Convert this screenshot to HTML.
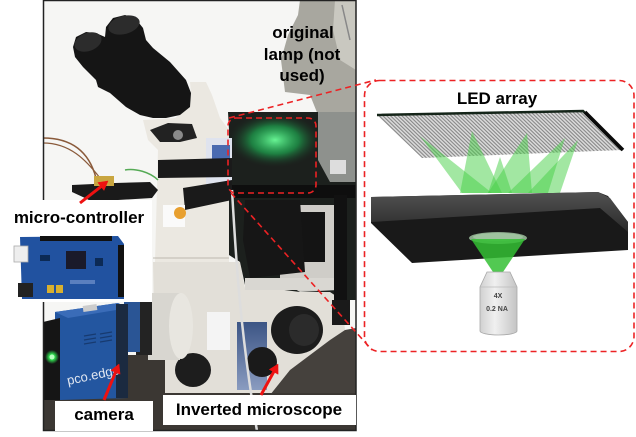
<!DOCTYPE html>
<html><head><meta charset="utf-8"><style>
html,body{margin:0;padding:0;background:#fff;}
svg{display:block;}
text{font-family:"Liberation Sans",Arial,sans-serif;}
</style></head><body>
<svg width="636" height="437" viewBox="0 0 636 437" xmlns="http://www.w3.org/2000/svg">
<defs>
  <clipPath id="ph"><rect x="43" y="0" width="313" height="431"/></clipPath>
  <radialGradient id="glow" cx="0.5" cy="0.5" r="0.5">
    <stop offset="0" stop-color="#6cff9a" stop-opacity="0.95"/>
    <stop offset="0.5" stop-color="#1fbf5a" stop-opacity="0.6"/>
    <stop offset="1" stop-color="#1c201d" stop-opacity="0"/>
  </radialGradient>
  <radialGradient id="led" cx="0.5" cy="0.5" r="0.5">
    <stop offset="0" stop-color="#b0ffb0"/>
    <stop offset="0.4" stop-color="#30e050"/>
    <stop offset="1" stop-color="#30e050" stop-opacity="0"/>
  </radialGradient>
  <pattern id="stripes" width="3.8" height="10" patternUnits="userSpaceOnUse" patternTransform="skewX(46)">
    <rect width="3.8" height="10" fill="#dadada"/>
    <rect x="0" width="1.6" height="10" fill="#8a8a8a"/>
  </pattern>
  <linearGradient id="obj" x1="0" x2="1" y1="0" y2="0">
    <stop offset="0" stop-color="#d0d0d0"/>
    <stop offset="0.4" stop-color="#f0f0f0"/>
    <stop offset="1" stop-color="#c4c4c4"/>
  </linearGradient>
  <linearGradient id="slabtop" x1="0" x2="0" y1="0" y2="1">
    <stop offset="0" stop-color="#525252"/>
    <stop offset="1" stop-color="#2a2a2a"/>
  </linearGradient>
  <linearGradient id="bluelab" x1="0" x2="0" y1="0" y2="1">
    <stop offset="0" stop-color="#3c5585"/>
    <stop offset="1" stop-color="#8a9cc0"/>
  </linearGradient>
</defs>

<!-- ================= PHOTO ================= -->
<g clip-path="url(#ph)">
  <rect x="43" y="0" width="313" height="431" fill="#f6f6f4"/>
  <!-- lamp housing -->
  <polygon points="300,0 356,0 356,115 318,115 310,95 285,92 281,60 288,35 298,15" fill="#a8a79f"/>
  <polygon points="335,0 356,0 356,70 340,60 333,30" fill="#c9c8c0"/>
  <line x1="342" y1="5" x2="350" y2="40" stroke="#888" stroke-width="1.5"/>
  <!-- brown wires -->
  <path d="M43,138 C75,138 90,155 96,178" stroke="#8a5a3a" stroke-width="1.5" fill="none"/>
  <path d="M43,143 C70,143 86,160 100,178" stroke="#8a5a3a" stroke-width="1.2" fill="none"/>
  <!-- microscope head/column -->
  <polygon points="143,120 175,118 190,107 191,93 190,82 206,82 212,95 220,118 229,130 229,262 155,262 158,150 148,140" fill="#ebe8e1"/>
  <polygon points="150,130 168,123 192,124 197,138 180,142 160,142" fill="#222"/>
  <circle cx="178" cy="135" r="5" fill="#8a8a8a"/>
  <!-- eyepieces -->
  <polygon points="73,47 76,37 86,32 96,33 105,37 106,27 113,18 125,15 135,18 143,28 146,40 153,48 170,62 186,80 191,93 190,107 180,115 166,118 153,118 140,115 126,107 110,93 98,87 96,80 83,67 75,57" fill="#151515"/>
  <ellipse cx="88" cy="42" rx="14" ry="9" transform="rotate(-20 88 42)" fill="#2c2c2c"/>
  <ellipse cx="124" cy="25" rx="16" ry="9" transform="rotate(-15 124 25)" fill="#2c2c2c"/>
  <!-- lower body -->
  <polygon points="153,262 240,262 245,288 330,292 342,300 345,330 330,340 290,370 270,395 163,395 155,378" fill="#e2dfd8"/>
  <line x1="153" y1="258" x2="229" y2="258" stroke="#bdb9b0" stroke-width="1"/>
  <!-- dark right region -->
  <polygon points="228,112 356,112 356,300 342,300 330,292 300,292 245,285 240,262 229,255 229,130" fill="#1c201d"/>
  <ellipse cx="275" cy="140" rx="48" ry="28" fill="url(#glow)"/>
  <polygon points="318,112 356,112 356,182 330,182 318,160" fill="#8e918d"/>
  <rect x="330" y="160" width="16" height="14" fill="#ddd"/>
  <rect x="225" y="185" width="131" height="13" fill="#0e0e0e"/>
  <polygon points="280,205 336,205 338,290 300,292 280,280" fill="#cfcdc8"/>
  <rect x="300" y="212" width="25" height="50" fill="#141414"/>
  <polygon points="245,200 300,200 305,272 250,278 243,240" fill="#161616"/>
  <rect x="245" y="278" width="90" height="12" fill="#d9d7d2"/>
  <rect x="334" y="195" width="13" height="130" fill="#111"/>
  <rect x="332" y="300" width="18" height="25" fill="#1a1a1a"/>
  <!-- blue/white device near column -->
  <rect x="206" y="138" width="26" height="48" fill="#dfe3ee"/>
  <rect x="212" y="145" width="18" height="16" fill="#4a6ab0"/>
  <!-- straps -->
  <polygon points="158,160 232,158 232,177 158,178" fill="#1a1a1a"/>
  <polygon points="183,188 232,180 232,200 185,210" fill="#1a1a1a"/>
  <rect x="163" y="205" width="22" height="22" fill="#fafafa"/>
  <circle cx="180" cy="213" r="6" fill="#e8a030"/>
  <!-- photo microcontroller -->
  <polygon points="72,185 115,183 150,182 158,190 152,198 118,200 102,207 85,198 72,192" fill="#1a1a1a"/>
  <rect x="94" y="176" width="20" height="10" fill="#c9a640"/>
  <path d="M125,170 C135,168 150,172 158,180" stroke="#5a5" stroke-width="1.5" fill="none"/>
  <!-- table -->
  <polygon points="345,330 356,328 356,431 250,431 270,395 290,370 330,340" fill="#45413d"/>
  <rect x="43" y="393" width="313" height="38" fill="#3b3733"/>
  <rect x="125" y="355" width="40" height="40" fill="#3b3733"/>
  <!-- labels/knobs on body -->
  <rect x="207" y="312" width="23" height="38" fill="#f4f4f4"/>
  <rect x="237" y="322" width="30" height="68" fill="url(#bluelab)"/>
  <ellipse cx="297" cy="330" rx="26" ry="24" fill="#1c1c1c"/>
  <ellipse cx="304" cy="330" rx="15" ry="16" fill="#2b2b2b"/>
  <ellipse cx="262" cy="362" rx="15" ry="15" fill="#1a1a1a"/>
  <ellipse cx="193" cy="370" rx="18" ry="17" fill="#1d1d1d"/>
  <!-- white cable -->
  <path d="M232,190 C236,260 240,330 257,431" stroke="#ddd" stroke-width="2.5" fill="none"/>
  <!-- camera lens -->
  <rect x="148" y="293" width="32" height="67" fill="#d8d6d0"/>
  <ellipse cx="181" cy="326" rx="12" ry="33" fill="#e8e6e0"/>
  <rect x="136" y="298" width="16" height="57" fill="#232323"/>
  <rect x="124" y="300" width="16" height="52" fill="#2a5595"/>
  <!-- camera body -->
  <polygon points="55,312 118,303 128,308 128,398 60,400 55,398" fill="#2356a0"/>
  <polygon points="55,312 118,303 128,308 68,318" fill="#3a6cb8"/>
  <rect x="83" y="305" width="14" height="6" fill="#ccc" transform="rotate(-8 90 308)"/>
  <rect x="116" y="304" width="12" height="94" fill="#1b2a40"/>
  <g stroke="#173a70" stroke-width="1.2">
    <line x1="84" y1="336" x2="96" y2="334"/><line x1="84" y1="340" x2="96" y2="338"/>
    <line x1="84" y1="344" x2="96" y2="342"/><line x1="100" y1="334" x2="112" y2="332"/>
    <line x1="100" y1="338" x2="112" y2="336"/><line x1="100" y1="342" x2="112" y2="340"/>
  </g>
  <polygon points="43,322 60,318 60,400 43,400" fill="#151515"/>
  <circle cx="52" cy="357" r="7" fill="url(#led)"/>
  <circle cx="52" cy="357" r="2.5" fill="#b8ffc0"/>
  <text x="68" y="385" font-size="13" fill="#e0e6f0" transform="rotate(-12 68 385)">pco.edge</text>
</g>
<rect x="43.5" y="0.5" width="312.5" height="430" fill="none" stroke="#222" stroke-width="1.5"/>

<!-- white label area covering photo left -->
<rect x="0" y="200" width="152" height="102" fill="#fff"/>

<!-- Arduino -->
<polygon points="20,237 118,236 124,244 124,299 22,299" fill="#2152a0"/>
<rect x="40" y="236" width="72" height="5" fill="#111"/>
<rect x="118" y="245" width="6" height="52" fill="#111"/>
<rect x="66" y="251" width="20" height="18" fill="#1a1a2a"/>
<rect x="14" y="246" width="14" height="16" fill="#eee" stroke="#aaa" stroke-width="0.8"/>
<rect x="18" y="283" width="15" height="14" fill="#222"/>
<rect x="47" y="285" width="7" height="8" fill="#d8b030"/>
<rect x="56" y="285" width="7" height="8" fill="#d8b030"/>
<rect x="40" y="255" width="10" height="6" fill="#0c2a55"/>
<rect x="95" y="258" width="8" height="8" fill="#0c2a55"/>
<rect x="70" y="280" width="25" height="4" fill="#5a7fbf"/>

<!-- labels on photo -->
<rect x="55" y="401" width="98" height="30" fill="#fff"/>
<rect x="163" y="395" width="193" height="30" fill="#fff"/>

<g font-weight="bold" font-size="17" fill="#000" text-anchor="middle">
  <text x="303" y="38">original</text>
  <text x="302" y="60">lamp (not</text>
  <text x="302" y="81">used)</text>
  <text x="79" y="223">micro-controller</text>
  <text x="104" y="420">camera</text>
  <text x="259" y="415">Inverted microscope</text>
  <text x="497" y="104">LED array</text>
</g>

<!-- arrows -->
<g fill="#ee1111" stroke="#ee1111">
  <line x1="80" y1="203" x2="101" y2="186.6" stroke-width="3"/>
  <polygon points="108,181 104,190.5 97.8,182.6" stroke-width="0.5"/>
  <line x1="104" y1="400" x2="115.5" y2="372.3" stroke-width="3"/>
  <polygon points="119,364 120.1,374.2 110.9,370.4" stroke-width="0.5"/>
  <line x1="261" y1="395" x2="273.7" y2="371.9" stroke-width="3"/>
  <polygon points="278,364 278.1,374.3 269.3,369.5" stroke-width="0.5"/>
</g>

<!-- ================= LED diagram ================= -->
<polygon points="377,115 583,111 622,150 422,158" fill="url(#stripes)"/>
<polyline points="377,115 583,111 622,150" fill="none" stroke="#142418" stroke-width="2.5"/>
<line x1="585" y1="112" x2="623" y2="150" stroke="#0a0a0a" stroke-width="3.5"/>
<!-- cones -->
<g fill="#45d045" fill-opacity="0.5">
  <polygon points="420,136 462,193 492,193"/>
  <polygon points="472,131 460,193 502,193"/>
  <polygon points="500,157 488,193 512,193"/>
  <polygon points="527,133 488,193 532,193"/>
  <polygon points="565,138 508,193 548,193"/>
  <polygon points="578,140 528,193 560,193"/>
</g>
<!-- slab -->
<polygon points="371,197 598,192 608,196 628,222 628,250 412,263 371,223" fill="#191919"/>
<polygon points="371,197 598,192 610,198 628,222 628,232 600,208 371,222" fill="url(#slabtop)"/>
<!-- lens & light -->
<ellipse cx="498" cy="238" rx="29" ry="6" fill="#8aa88a"/>
<ellipse cx="498" cy="237" rx="25" ry="4" fill="#9fc29f"/>
<polygon points="471,239 525,239 501,275 495,275" fill="#34c034" fill-opacity="0.85"/>
<!-- objective -->
<path d="M487,272 L510,272 L517,287 L517,331 A18.5,4 0 0 1 480,331 L480,287 Z" fill="url(#obj)" stroke="#a8a8a8" stroke-width="0.8"/>
<line x1="480" y1="287" x2="517" y2="287" stroke="#bbb" stroke-width="0.8"/>
<text x="498" y="298" font-size="7" font-weight="bold" fill="#444" text-anchor="middle">4X</text>
<text x="497" y="311" font-size="7" font-weight="bold" fill="#444" text-anchor="middle">0.2 NA</text>

<!-- dashed connectors -->
<g fill="none" stroke="#ec2224" stroke-width="1.6" stroke-dasharray="6 4">
  <rect x="228" y="118" width="88" height="75" rx="8"/>
  <rect x="364.5" y="80.5" width="269.5" height="271" rx="15"/>
  <line x1="229" y1="118" x2="376" y2="80"/>
  <line x1="231" y1="193" x2="372" y2="350"/>
</g>
</svg>
</body></html>
